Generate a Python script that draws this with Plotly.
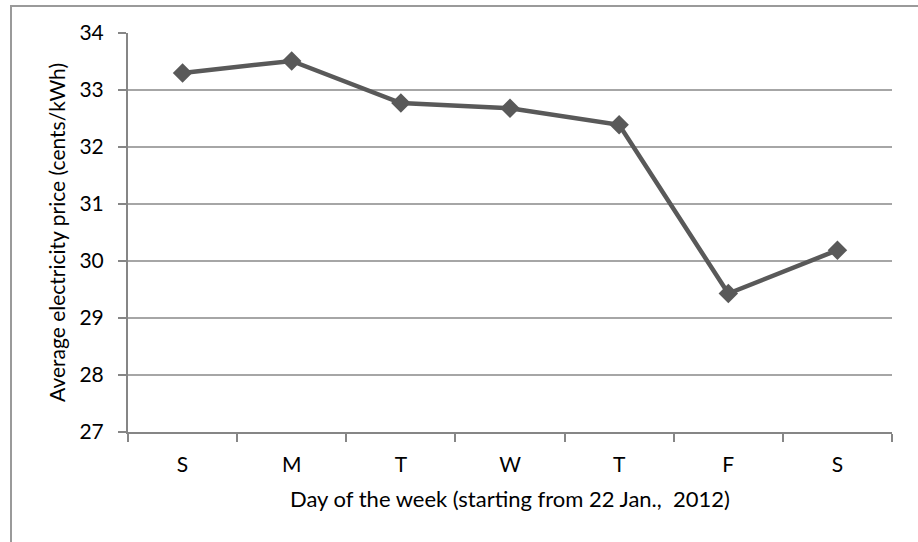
import plotly.graph_objects as go

days = ["S", "M", "T", "W", "T", "F", "S"]
prices = [33.30, 33.51, 32.77, 32.68, 32.39, 29.43, 30.19]
y_ticks = [27, 28, 29, 30, 31, 32, 33, 34]

x_pos = list(range(len(days)))
boundaries = [i - 0.5 for i in range(len(days) + 1)]

fig = go.Figure()
fig.add_trace(go.Scatter(
    x=x_pos, y=prices, mode="lines+markers",
    line=dict(color="#595959", width=4.5),
    marker=dict(symbol="diamond", size=15, color="#595959"),
    showlegend=False, cliponaxis=False,
))

font_family = "Lato, 'Open Sans', sans-serif"

fig.update_layout(
    width=918, height=542,
    margin=dict(l=128, r=26, t=33, b=110),
    paper_bgcolor="white", plot_bgcolor="white",
    font=dict(family=font_family, color="#000000"),
    xaxis=dict(
        range=[-0.5, len(days) - 0.5],
        tickmode="array", tickvals=x_pos, ticktext=days,
        ticks="outside", ticklen=13, tickcolor="rgba(0,0,0,0)",
        tickfont=dict(size=21),
        showline=True, linecolor="#868686", linewidth=2,
        showgrid=False, zeroline=False,
        minor=dict(tickmode="array", tickvals=boundaries, ticks="outside",
                   ticklen=8, tickcolor="#868686", tickwidth=2, showgrid=False),
        title=dict(text="Day of the week (starting from 22 Jan.,  2012)",
                   font=dict(size=22), standoff=16),
    ),
    yaxis=dict(
        range=[27, 34],
        tickmode="array", tickvals=y_ticks,
        ticks="outside", ticklen=8, tickcolor="#868686", tickwidth=2,
        tickfont=dict(size=21), ticklabelstandoff=10,
        showline=True, linecolor="#868686", linewidth=2,
        showgrid=True, gridcolor="#a6a6a6", gridwidth=2,
        zeroline=False,
        title=dict(text="Average electricity price (cents/kWh)",
                   font=dict(size=21), standoff=8),
    ),
    shapes=[dict(type="rect", xref="paper", yref="paper",
                 x0=(11 - 128) / 764, x1=1.2, y0=-0.4, y1=1 + (33 - 6) / 399,
                 line=dict(color="#9a9a9a", width=2), layer="below")],
)

fig.write_html("out.html", config={"displayModeBar": False},
               post_script="document.body.style.margin='0';")
